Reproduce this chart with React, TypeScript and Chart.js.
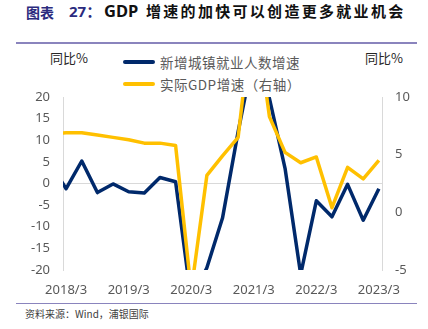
import React, { useEffect, useRef } from 'react';
import { Chart, registerables } from 'chart.js';

Chart.register(...registerables);

// ---- data ----
const quarters = [
  '2017/12',
  '2018/3', '2018/6', '2018/9', '2018/12',
  '2019/3', '2019/6', '2019/9', '2019/12',
  '2020/3', '2020/6', '2020/9', '2020/12',
  '2021/3', '2021/6', '2021/9', '2021/12',
  '2022/3', '2022/6', '2022/9', '2022/12',
  '2023/3',
];
// 新增城镇就业人数增速 (left axis, %)
const employmentGrowth = [
  4.5,
  -1.2, 5.2, -2.1, -0.1,
  -1.9, -2.2, 1.4, 0.4,
  -27, -19.5, -8, 12,
  30, 19.7, 3.5, -21,
  -4.0, -7.7, -0.2, -8.5,
  -1.2,
];
// 实际GDP增速 (right axis, %)
const gdpGrowth = [
  6.8,
  6.9, 6.9, 6.7, 6.5,
  6.3, 6.0, 6.0, 5.8,
  -6.8, 3.2, 4.9, 6.5,
  18.3, 8.3, 5.2, 4.3,
  4.8, 0.4, 3.9, 2.9,
  4.5,
];
const xTickLabels = ['2018/3', '2019/3', '2020/3', '2021/3', '2022/3', '2023/3'];
const seriesNames = ['新增城镇就业人数增速', '实际GDP增速（右轴）'];
const seriesColors = ['#00296B', '#FFC000'];

const FONT = '"Noto Sans", "Noto Sans CJK SC", sans-serif';
const CJK = '"Noto Sans CJK SC", "Noto Sans", sans-serif';
const TICK_COLOR = '#595959';
const AXIS_COLOR = '#d9d9d9';

export default function App() {
  const canvasRef = useRef<HTMLCanvasElement | null>(null);

  useEffect(() => {
    const canvas = canvasRef.current;
    if (!canvas) return;
    const chart = new Chart(canvas, {
      type: 'line',
      data: {
        datasets: [
          {
            label: seriesNames[0],
            data: employmentGrowth.map((v, i) => ({ x: i, y: v })),
            borderColor: seriesColors[0],
            backgroundColor: seriesColors[0],
            borderWidth: 3.5,
            pointRadius: 0,
            tension: 0,
            borderJoinStyle: 'round',
            yAxisID: 'y',
            order: 2,
          },
          {
            label: seriesNames[1],
            data: gdpGrowth.map((v, i) => ({ x: i, y: v })),
            borderColor: seriesColors[1],
            backgroundColor: seriesColors[1],
            borderWidth: 3.5,
            pointRadius: 0,
            tension: 0,
            borderJoinStyle: 'round',
            yAxisID: 'y1',
            order: 1,
          },
        ],
      },
      options: {
        animation: false,
        responsive: false,
        maintainAspectRatio: false,
        layout: { padding: { top: 97, left: 0, right: 0, bottom: 0 } },
        plugins: {
          legend: { display: false },
          tooltip: { enabled: false },
          title: { display: false },
        },
        scales: {
          x: {
            type: 'linear',
            min: 0.8,
            max: 21.2,
            afterBuildTicks: (scale: any) => {
              scale.ticks = xTickLabels.map((l) => ({ value: quarters.indexOf(l) }));
            },
            afterFit: (scale: any) => {
              scale.height = 59;
            },
            ticks: {
              autoSkip: false,
              maxRotation: 0,
              minRotation: 0,
              padding: 12,
              color: TICK_COLOR,
              font: { family: FONT, size: 13 },
              callback: (v: any) => quarters[Math.round(Number(v))],
            },
            grid: { display: false, drawTicks: false },
            border: { display: false },
          },
          y: {
            position: 'left',
            min: -20,
            max: 20,
            afterFit: (scale: any) => {
              scale.width = 63;
            },
            ticks: {
              stepSize: 5,
              padding: 13,
              color: TICK_COLOR,
              font: { family: FONT, size: 13 },
            },
            grid: {
              drawTicks: false,
              color: (ctx: any) => (ctx.tick && ctx.tick.value === 0 ? AXIS_COLOR : 'rgba(0,0,0,0)'),
              lineWidth: 1,
            },
            border: { display: true, color: AXIS_COLOR, width: 1 },
          },
          y1: {
            position: 'right',
            min: -5,
            max: 10,
            afterFit: (scale: any) => {
              scale.width = 46;
            },
            ticks: {
              stepSize: 5,
              padding: 13,
              color: TICK_COLOR,
              font: { family: FONT, size: 13 },
            },
            grid: { display: false, drawTicks: false },
            border: { display: true, color: AXIS_COLOR, width: 1 },
          },
        },
      },
    } as any);
    return () => chart.destroy();
  }, []);

  const abs = (s: React.CSSProperties): React.CSSProperties => ({ position: 'absolute', whiteSpace: 'nowrap', ...s });

  return (
    <div style={{ position: 'absolute', left: 0, top: 0, width: 428, height: 329, background: '#fff', overflow: 'hidden' }}>
      {/* title */}
      <span style={abs({ left: 26, top: 2, fontFamily: CJK, fontWeight: 700, fontSize: 14, color: '#2b2b7e', lineHeight: '20px' })}>图表</span>
      <span style={abs({ left: 69, top: 1, fontFamily: FONT, fontWeight: 700, fontSize: 15, color: '#2b2b7e', lineHeight: '20px' })}>27：</span>
      <span style={abs({ left: 104, top: 0, fontFamily: FONT, fontWeight: 700, fontSize: 16.5, color: '#111', lineHeight: '22px' })}>GDP</span>
      <span style={abs({ left: 146, top: 1, fontFamily: CJK, fontWeight: 700, fontSize: 15, letterSpacing: 2.3, color: '#111', lineHeight: '20px' })}>增速的加快可以创造更多就业机会</span>
      {/* rules */}
      <div style={abs({ left: 16, top: 42, width: 401, height: 1.5, background: '#8a84bd' })} />
      <div style={abs({ left: 16, top: 302.5, width: 401, height: 1.5, background: '#8a84bd' })} />
      {/* axis titles */}
      <span style={abs({ left: 50, top: 48, fontFamily: CJK, fontSize: 13, color: '#262626', lineHeight: '20px' })}>同比%</span>
      <span style={abs({ left: 365, top: 48, fontFamily: CJK, fontSize: 13, color: '#262626', lineHeight: '20px' })}>同比%</span>
      {/* legend */}
      {seriesNames.map((name, i) => (
        <React.Fragment key={name}>
          <div style={abs({ left: 123, top: 60 + i * 21.7, width: 32, height: 4, borderRadius: 2, background: seriesColors[i] })} />
          <span style={abs({ left: 160, top: 52 + i * 21.7, fontFamily: CJK, fontSize: 13.5, letterSpacing: 0.5, color: TICK_COLOR, lineHeight: '20px' })}>{name}</span>
        </React.Fragment>
      ))}
      {/* source */}
      <span style={abs({ left: 25, top: 307, fontFamily: CJK, fontSize: 10, color: '#404040', lineHeight: '14px' })}>资料来源：Wind，浦银国际</span>
      <canvas ref={canvasRef} width={428} height={329} style={{ position: 'absolute', left: 0, top: 0, width: 428, height: 329 }} />
    </div>
  );
}
